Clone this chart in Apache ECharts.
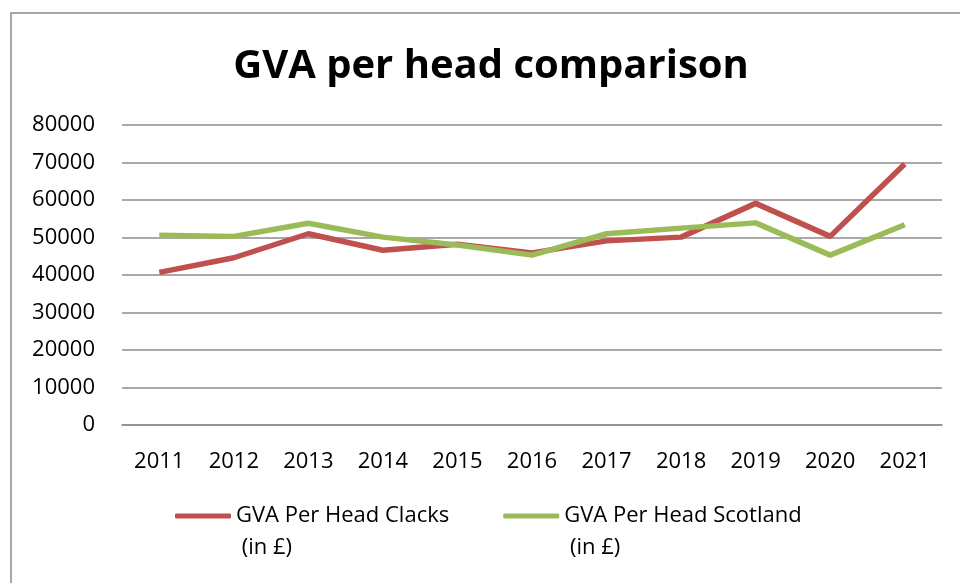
<!DOCTYPE html>
<html lang="en">
<head>
    <meta http-equiv="Content-Type" content="text/html; charset=UTF-8">
    <title>GVA per head comparison</title>
    <script type="text/javascript" src="https://cdn.jsdelivr.net/npm/echarts@6/dist/echarts.min.js"></script>
</head>
<body style="margin:0;background:#fff">
<div id="main" style="width:960px;height:583px"></div>
<script type="text/javascript">
    // data
    var years = ['2011', '2012', '2013', '2014', '2015', '2016', '2017', '2018', '2019', '2020', '2021'];
    var clacks = [40700, 44600, 51000, 46600, 48200, 45900, 49100, 50100, 59100, 50300, 69600];
    var scotland = [50600, 50300, 53800, 50100, 48000, 45300, 51000, 52500, 53900, 45300, 53400];
    var seriesNames = ['GVA Per Head Clacks (in £)', 'GVA Per Head Scotland (in £)'];

    var myChart = echarts.init(document.getElementById('main'));
    var font = 'Open Sans';

    myChart.setOption({
        animation: false,
        title: {
            text: 'GVA per head comparison',
            left: 486,
            textAlign: 'center',
            top: 42,
            textStyle: { fontFamily: font, fontWeight: 'bold', fontSize: 40, color: '#000' }
        },
        graphic: [{
            type: 'rect',
            shape: { x: 11, y: 13, width: 960, height: 600 },
            style: { fill: 'none', stroke: '#8a8a8a', lineWidth: 1.5 },
            silent: true
        }],
        legend: {
            top: 468,
            left: 170,
            itemWidth: 56,
            itemHeight: 5,
            itemGap: 54,
            icon: 'roundRect',
            // empty first line keeps the first text line level with the icon
            formatter: function (name) {
                var parts = name.split(' (in');
                return '{s| }\n{t|' + parts[0] + '}\n{t| (in' + parts[1] + '}';
            },
            textStyle: {
                fontFamily: font, fontSize: 22, color: '#000',
                rich: {
                    s: { fontSize: 22, lineHeight: 32 },
                    t: { fontFamily: font, fontSize: 22, color: '#000', lineHeight: 32 }
                }
            },
            data: seriesNames
        },
        grid: { left: 122, right: 18, top: 125, bottom: 158 },
        xAxis: {
            type: 'category',
            data: years,
            axisLine: { lineStyle: { color: '#8c8c8c', width: 1.5 } },
            axisTick: { show: false },
            axisLabel: { fontFamily: font, fontSize: 22, color: '#000', margin: 26 }
        },
        yAxis: {
            type: 'value',
            min: 0,
            max: 80000,
            interval: 10000,
            axisLine: { show: false },
            axisTick: { show: false },
            axisLabel: {
                fontFamily: font, fontSize: 22, color: '#000', margin: 27,
                formatter: function (v) { return String(v); }
            },
            splitLine: { lineStyle: { color: '#8c8c8c', width: 1.5 } }
        },
        series: [{
            name: seriesNames[0],
            type: 'line',
            data: clacks,
            symbol: 'none',
            lineStyle: { color: '#c0504d', width: 5.5 },
            itemStyle: { color: '#c0504d' }
        }, {
            name: seriesNames[1],
            type: 'line',
            data: scotland,
            symbol: 'none',
            lineStyle: { color: '#9bbb59', width: 5.5 },
            itemStyle: { color: '#9bbb59' }
        }]
    });
</script>
</body>
</html>
